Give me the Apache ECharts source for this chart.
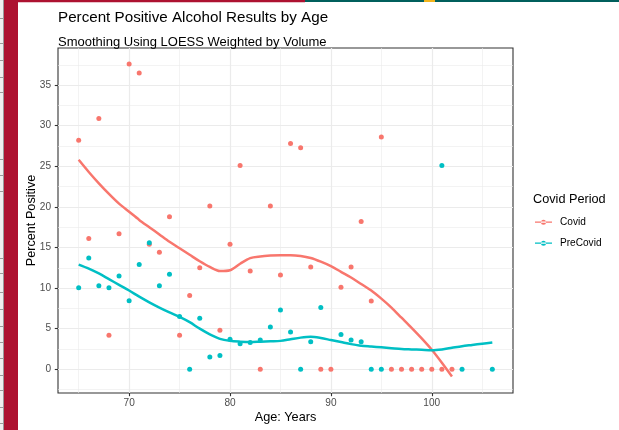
<!DOCTYPE html>
<html><head><meta charset="utf-8">
<script src="https://cdn.jsdelivr.net/npm/echarts@6/dist/echarts.min.js"></script>
<style>html,body{margin:0;padding:0;background:#fff}#c{width:619px;height:430px}</style>
</head><body><div id="c"></div>
<script>
// ---- data ----
const covidAges = [65,66,67,68,69,70,71,72,73,74,75,76,77,78,79,80,81,82,83,84,85,86,87,88,89,90,91,92,93,94,95,96,97,98,99,100,101,102];
const covidValues = [28.2,16.1,30.9,4.2,16.7,37.6,36.5,15.4,14.4,18.8,4.2,9.1,12.5,20.1,4.8,15.4,25.1,12.1,0,20.1,11.6,27.8,27.3,12.6,0,0,10.1,12.6,18.2,8.4,28.6,0,0,0,0,0,0,0];
const preAges = [65,66,67,68,69,70,71,72,73,74,75,76,77,78,79,80,81,82,83,84,85,86,87,88,89,91,92,93,94,95,101,103,106];
const preValues = [10.05,13.7,10.3,10.05,11.5,8.45,12.9,15.6,10.3,11.7,6.5,0,6.3,1.5,1.7,3.7,3.15,3.3,3.6,5.2,7.3,4.6,0,3.4,7.6,4.3,3.6,3.4,0,0,25.1,0,0];
const covidFitAges = [65,66,67,68,69,70,71,72,73,74,75,76,77,78,79,80,81,82,83,84,85,86,87,88,89,90,91,92,93,94,95,96,97,98,99,100,101,102];
const covidFitValues = [25.8,24.3,22.9,21.6,20.4,19.4,18.4,17.5,16.6,15.7,14.9,14.1,13.3,12.6,12.1,12.2,13.0,13.7,13.9,14.0,14.05,14.05,13.95,13.7,13.25,12.7,12.0,11.3,10.5,9.7,8.7,7.6,6.35,5.1,3.8,2.4,0.8,-0.9];
const preFitAges = [65,66,67,68,69,70,71,72,73,74,75,76,77,78,79,80,81,82,83,84,85,86,87,88,89,90,91,92,93,94,95,96,97,98,99,100,101,102,103,104,105,106];
const preFitValues = [12.9,12.4,11.8,11.1,10.4,9.7,8.95,8.25,7.6,7.0,6.45,5.8,5.0,4.3,3.75,3.5,3.4,3.35,3.4,3.45,3.5,3.7,3.9,4.0,3.85,3.6,3.35,3.1,2.9,2.8,2.7,2.6,2.5,2.45,2.4,2.35,2.45,2.65,2.85,3.0,3.15,3.3];
const xTickLabels = [70,80,90,100];
const yTickLabels = [0,5,10,15,20,25,30,35];
const seriesNames = ['Covid','PreCovid'];
const colors = ['#F8766D','#00BFC4'];

// ---- chart ----
const FONT = '"Liberation Sans", Arial, sans-serif';
const pair = (xs, ys) => xs.map((x, i) => [x, ys[i]]);
const chart = echarts.init(document.getElementById('c'), null, {renderer: 'canvas'});

const leftTicks = [18,43,60,77,92,159,175,191,258,273,292,309,326,342,358,375,390,407,423];
const deco = [
  {type:'rect', shape:{x:0,y:0,width:4,height:430}, style:{fill:'#efefef'}, silent:true},
  {type:'line', shape:{x1:3.5,y1:0,x2:3.5,y2:430}, style:{stroke:'#9a9a9a',lineWidth:1}, silent:true},
  {type:'rect', shape:{x:4,y:0,width:14,height:430}, style:{fill:'#AD1230'}, silent:true},
  {type:'rect', shape:{x:18,y:0,width:287,height:2.3}, style:{fill:'#AD1230'}, silent:true},
  {type:'rect', shape:{x:305,y:0,width:314,height:2}, style:{fill:'#005F5C'}, silent:true},
  {type:'rect', shape:{x:424,y:0,width:11,height:2}, style:{fill:'#F2B41C'}, silent:true}
];
leftTicks.forEach(y => deco.push({type:'line', shape:{x1:0,y1:y+0.5,x2:3,y2:y+0.5}, style:{stroke:'#9a9a9a',lineWidth:1}, silent:true}));
deco.push({type:'text', left:533, top:192.5, style:{text:'Covid Period', font:'12.7px ' + FONT, fill:'#000'}});

chart.setOption({
  animation: false,
  backgroundColor: '#fff',
  color: colors,
  title: {
    text: 'Percent Positive Alcohol Results by Age',
    subtext: 'Smoothing Using LOESS Weighted by Volume',
    left: 58, top: 10.5, padding: 0, itemGap: 10.7,
    textStyle: {fontFamily: FONT, fontSize: 15.2, fontWeight: 'normal', color: '#000'},
    subtextStyle: {fontFamily: FONT, fontSize: 13, color: '#000'}
  },
  grid: {left: 58, right: 106, top: 48, bottom: 37, show: true, borderColor: '#333', borderWidth: 1.1, backgroundColor: '#fff'},
  legend: {
    orient: 'vertical', left: 535, top: 217.2, padding: 0, itemWidth: 17, itemHeight: 10, itemGap: 11,
    selectedMode: false, data: seriesNames,
    icon: 'path://M0,4.4h17v1.2h-17z M6,5a2.5,2.5 0 1,0 5,0a2.5,2.5 0 1,0 -5,0z',
    textStyle: {fontFamily: FONT, fontSize: 10.1, color: '#000', padding: [0,0,0,3]}
  },
  xAxis: {
    type: 'value', min: 62.95, max: 108.05, splitNumber: 5,
    name: 'Age: Years', nameLocation: 'middle', nameGap: 17.6, nameMoveOverlap: false,
    nameTextStyle: {fontFamily: FONT, fontSize: 12.7, color: '#000'},
    axisLine: {show: false, onZero: false},
    axisTick: {show: true, length: 3.2, customValues: xTickLabels, lineStyle: {color: '#333', width: 1.1}},
    axisLabel: {customValues: xTickLabels, margin: 5.7, fontFamily: FONT, fontSize: 10.1, color: '#4D4D4D'},
    splitLine: {show: true, lineStyle: {color: '#EBEBEB', width: 1.2}},
    minorTick: {show: false, splitNumber: 2},
    minorSplitLine: {show: true, lineStyle: {color: '#EBEBEB', width: 0.6}}
  },
  yAxis: {
    type: 'value', min: -2.92, max: 39.57, splitNumber: 8,
    name: 'Percent Positive', nameLocation: 'middle', nameGap: 20.5, nameRotate: 90, nameMoveOverlap: false,
    nameTextStyle: {fontFamily: FONT, fontSize: 12.7, color: '#000'},
    axisLine: {show: false, onZero: false},
    axisTick: {show: true, length: 3.2, customValues: yTickLabels, lineStyle: {color: '#333', width: 1.1}},
    axisLabel: {customValues: yTickLabels, margin: 7, fontFamily: FONT, fontSize: 10.1, color: '#4D4D4D'},
    splitLine: {show: true, lineStyle: {color: '#EBEBEB', width: 1.2}},
    minorTick: {show: false, splitNumber: 2},
    minorSplitLine: {show: true, lineStyle: {color: '#EBEBEB', width: 0.6}}
  },
  series: [
    {name: 'Covid', type: 'scatter', data: pair(covidAges, covidValues), symbolSize: 5, itemStyle: {color: colors[0], opacity: 1}, z: 3},
    {name: 'PreCovid', type: 'scatter', data: pair(preAges, preValues), symbolSize: 5, itemStyle: {color: colors[1], opacity: 1}, z: 3},
    {name: 'Covid', type: 'line', data: pair(covidFitAges, covidFitValues), showSymbol: false, symbol: 'none', smooth: 0.3, clip: true, lineStyle: {color: colors[0], width: 2.5}, itemStyle: {color: colors[0]}, z: 4},
    {name: 'PreCovid', type: 'line', data: pair(preFitAges, preFitValues), showSymbol: false, symbol: 'none', smooth: 0.3, clip: true, lineStyle: {color: colors[1], width: 2.5}, itemStyle: {color: colors[1]}, z: 4}
  ],
  graphic: deco
});
</script></body></html>
